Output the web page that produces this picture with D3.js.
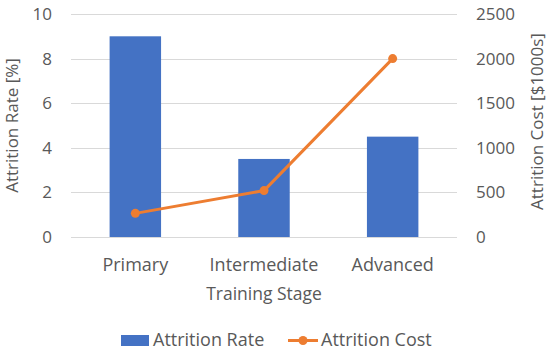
<!DOCTYPE html>
<html lang="en">
<head>
    <meta charset="UTF-8">
    <title>Attrition by Training Stage</title>
    <script src="https://cdnjs.cloudflare.com/ajax/libs/d3/7.8.5/d3.min.js"></script>
    <style>
        body { margin: 0; padding: 0; background: #ffffff; }
        text { font-family: "Open Sans", "Noto Sans", sans-serif; fill: #595959; }
        .grid line { stroke: #d9d9d9; stroke-width: 1; }
    </style>
</head>
<body>
    <div id="chart"></div>
    <script>
        // data
        const stages = ["Primary", "Intermediate", "Advanced"];
        const attritionRate = [9, 3.5, 4.5];
        const attritionCost = [265, 520, 2000];
        const rateTicks = [0, 2, 4, 6, 8, 10];
        const costTicks = [0, 500, 1000, 1500, 2000, 2500];

        const width = 550, height = 353;
        const plotLeft = 71, plotRight = 457, plotTop = 14, plotBottom = 237;

        const svg = d3.select("#chart").append("svg")
            .attr("width", width)
            .attr("height", height);

        const x = d3.scaleBand().domain(stages).range([plotLeft, plotRight]).paddingInner(0.6).paddingOuter(0.3);
        const yL = d3.scaleLinear().domain([0, 10]).range([plotBottom, plotTop]);
        const yR = d3.scaleLinear().domain([0, 2500]).range([plotBottom, plotTop]);

        // gridlines
        svg.append("g").attr("class", "grid")
            .selectAll("line").data(rateTicks).enter().append("line")
            .attr("x1", plotLeft).attr("x2", plotRight)
            .attr("y1", d => Math.round(yL(d)) + 0.5)
            .attr("y2", d => Math.round(yL(d)) + 0.5);

        // left ticks
        svg.append("g").selectAll("text").data(rateTicks).enter().append("text")
            .attr("x", 52).attr("y", d => yL(d)).attr("dy", "0.35em")
            .attr("text-anchor", "end").attr("font-size", 17)
            .text(d => d);

        // right ticks
        svg.append("g").selectAll("text").data(costTicks).enter().append("text")
            .attr("x", 476).attr("y", d => yR(d)).attr("dy", "0.35em")
            .attr("text-anchor", "start").attr("font-size", 17)
            .text(d => d);

        // bars
        svg.append("g").selectAll("rect").data(stages).enter().append("rect")
            .attr("x", d => x(d))
            .attr("width", x.bandwidth())
            .attr("y", (d, i) => yL(attritionRate[i]))
            .attr("height", (d, i) => plotBottom - yL(attritionRate[i]))
            .attr("fill", "#4472c4");

        // line
        const line = d3.line()
            .x((d, i) => x(stages[i]) + x.bandwidth() / 2)
            .y(d => yR(d));
        svg.append("path").datum(attritionCost)
            .attr("d", line)
            .attr("fill", "none")
            .attr("stroke", "#ed7d31")
            .attr("stroke-width", 3)
            .attr("stroke-linejoin", "round");
        svg.append("g").selectAll("circle").data(attritionCost).enter().append("circle")
            .attr("cx", (d, i) => x(stages[i]) + x.bandwidth() / 2)
            .attr("cy", d => yR(d))
            .attr("r", 4.5)
            .attr("fill", "#ed7d31");

        // category labels
        svg.append("g").selectAll("text").data(stages).enter().append("text")
            .attr("x", d => x(d) + x.bandwidth() / 2)
            .attr("y", 271)
            .attr("text-anchor", "middle").attr("font-size", 18)
            .text(d => d);

        // axis titles
        svg.append("text")
            .attr("x", (plotLeft + plotRight) / 2).attr("y", 300)
            .attr("text-anchor", "middle").attr("font-size", 17.5)
            .text("Training Stage");
        svg.append("text")
            .attr("transform", `translate(18,${(plotTop + plotBottom) / 2}) rotate(-90)`)
            .attr("text-anchor", "middle").attr("font-size", 17)
            .text("Attrition Rate [%]");
        svg.append("text")
            .attr("transform", `translate(543,${(plotTop + plotBottom) / 2 - 4}) rotate(-90)`)
            .attr("text-anchor", "middle").attr("font-size", 17)
            .text("Attrition Cost [$1000s]");

        // legend
        const lg = svg.append("g");
        lg.append("rect").attr("x", 121).attr("y", 335).attr("width", 28).attr("height", 11).attr("fill", "#4472c4");
        lg.append("text").attr("x", 153).attr("y", 346).attr("font-size", 18).text("Attrition Rate");
        lg.append("line").attr("x1", 288).attr("x2", 318).attr("y1", 340.5).attr("y2", 340.5)
            .attr("stroke", "#ed7d31").attr("stroke-width", 3);
        lg.append("circle").attr("cx", 303).attr("cy", 340.5).attr("r", 4.5).attr("fill", "#ed7d31");
        lg.append("text").attr("x", 321).attr("y", 346).attr("font-size", 18).text("Attrition Cost");
    </script>
</body>
</html>
